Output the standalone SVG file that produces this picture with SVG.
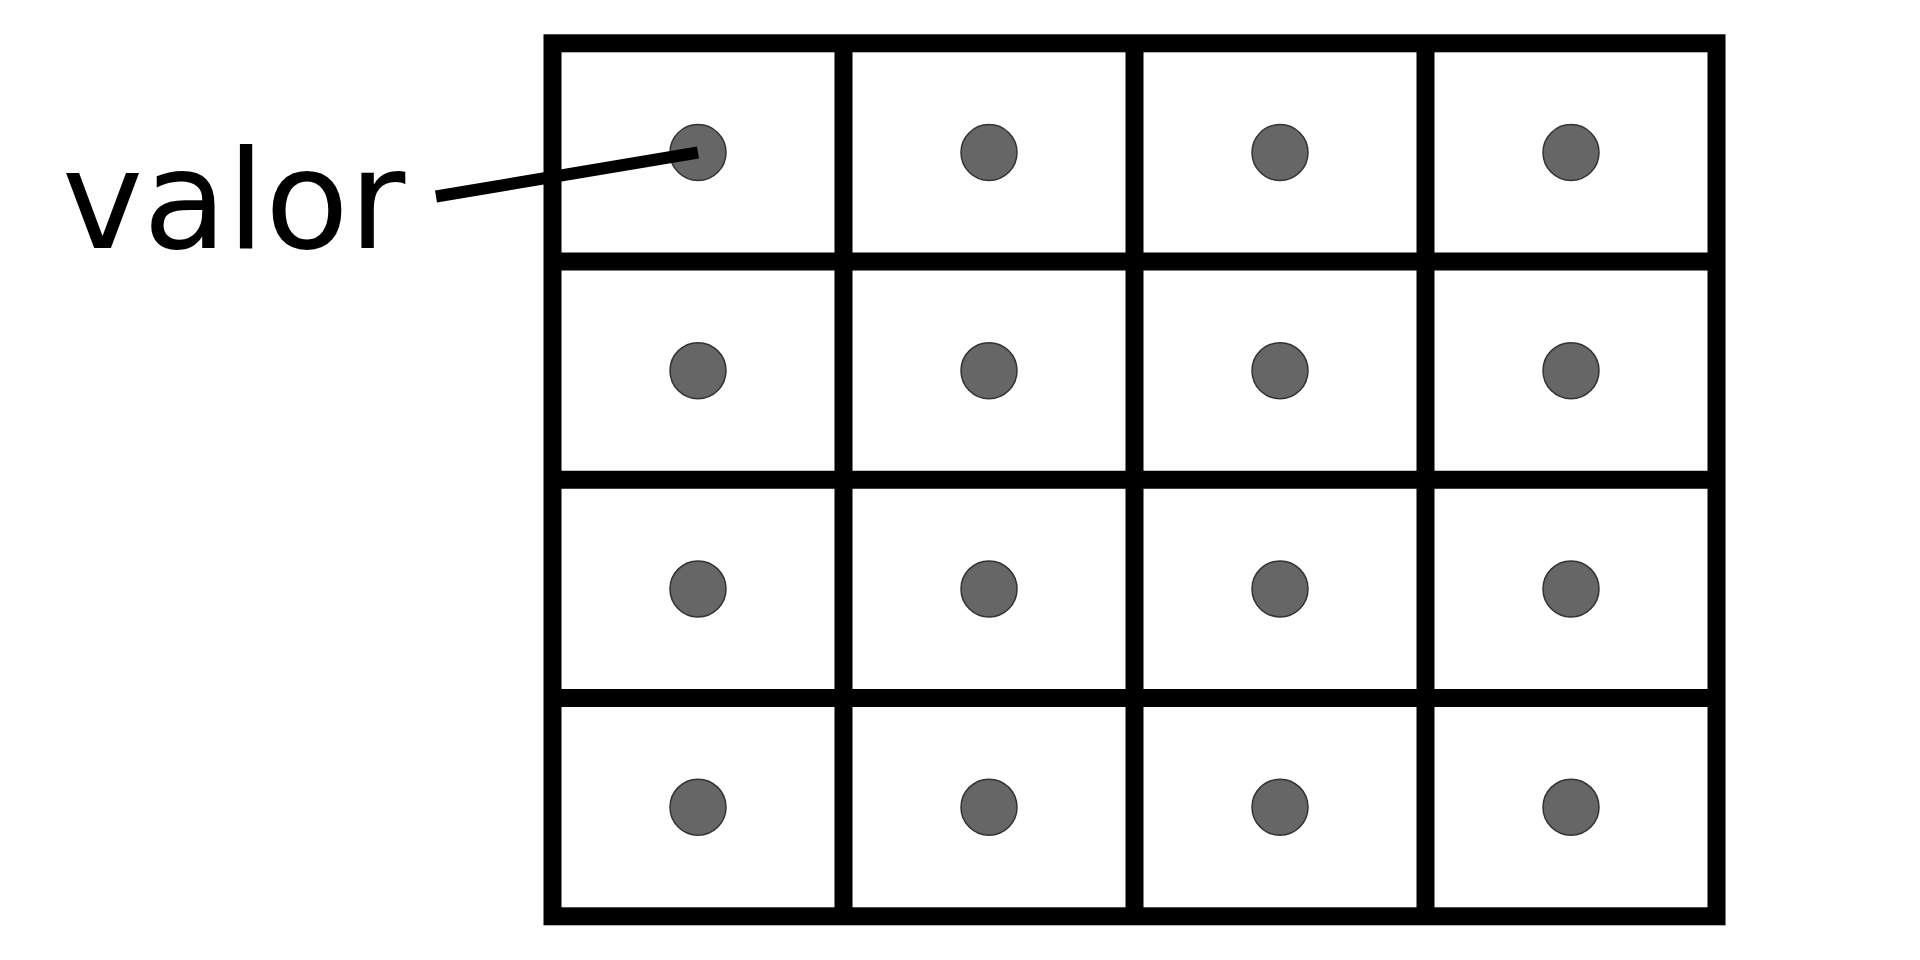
<svg xmlns="http://www.w3.org/2000/svg" width="1920" height="960" viewBox="0 0 1920 960">
<style>
.grid{fill:none;stroke:#000;stroke-width:18}
.dot{fill:#666;stroke:#333;stroke-width:1.5}
.lbl{font-family:"DejaVu Sans",sans-serif;font-size:137px;fill:#000}
.lead{stroke:#000;stroke-width:12;fill:none}
</style>
<rect width="1920" height="960" fill="#fff"/>
<g id="grid">
<rect class="grid" x="552.5" y="43.3" width="1164" height="873"/>
<path class="grid" d="M843.5 43.3V916.3M1134.5 43.3V916.3M1425.5 43.3V916.3M552.5 261.5H1716.5M552.5 479.8H1716.5M552.5 698H1716.5"/>
</g>
<g id="dots">
<circle class="dot" cx="698" cy="152.5" r="28"/>
<circle class="dot" cx="989" cy="152.5" r="28"/>
<circle class="dot" cx="1280" cy="152.5" r="28"/>
<circle class="dot" cx="1571" cy="152.5" r="28"/>
<circle class="dot" cx="698" cy="370.7" r="28"/>
<circle class="dot" cx="989" cy="370.7" r="28"/>
<circle class="dot" cx="1280" cy="370.7" r="28"/>
<circle class="dot" cx="1571" cy="370.7" r="28"/>
<circle class="dot" cx="698" cy="588.9" r="28"/>
<circle class="dot" cx="989" cy="588.9" r="28"/>
<circle class="dot" cx="1280" cy="588.9" r="28"/>
<circle class="dot" cx="1571" cy="588.9" r="28"/>
<circle class="dot" cx="698" cy="807.2" r="28"/>
<circle class="dot" cx="989" cy="807.2" r="28"/>
<circle class="dot" cx="1280" cy="807.2" r="28"/>
<circle class="dot" cx="1571" cy="807.2" r="28"/>
</g>
<g id="connectors">
<line class="lead" x1="436" y1="196.5" x2="698" y2="152.5"/>
</g>
<g id="label">
<text class="lbl" x="62" y="248">valor</text>
</g>
</svg>
